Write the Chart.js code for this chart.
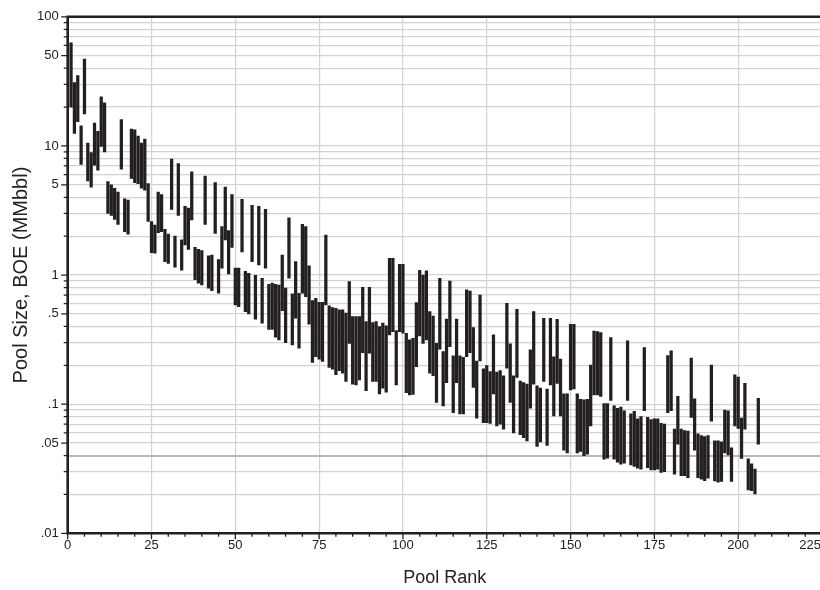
<!DOCTYPE html>
<html>
<head>
<meta charset="utf-8">
<title>Pool Size by Rank</title>
<script src="https://cdn.jsdelivr.net/npm/chart.js@4/dist/chart.umd.min.js"></script>
<style>
    html, body { margin: 0; padding: 0; background: #fff; overflow: hidden; }
    #wrap { position: relative; width: 840px; height: 590px; }
</style>
</head>
<body>
<div id="wrap"><canvas id="pool-chart"></canvas></div>
<script>
// Pool size range (MMbbl BOE) for each pool, ranked 1..206
const poolHigh = [
    63, 31, 35, 14.3, 47, 10.5, 8.9, 15, 13, 24,
    21.6, 5.3, 5.0, 4.7, 4.4, 16, 3.9, 3.8, 13.5, 13.3,
    11.9, 10.5, 11.3, 5.1, 2.6, 2.44, 4.4, 4.2, 2.26, 2.08,
    7.9, 2.0, 7.3, 1.87, 3.4, 3.3, 6.3, 1.64, 1.58, 1.55,
    5.85, 1.41, 1.43, 5.2, 1.32, 2.37, 4.8, 2.21, 4.2, 1.13,
    1.13, 3.86, 1.07, 1.03, 3.47, 0.996, 3.4, 0.944, 3.23, 0.849,
    0.865, 0.849, 0.838, 1.43, 0.791, 2.78, 0.714, 1.27, 0.723, 2.47,
    2.37, 1.18, 0.634, 0.661, 0.615, 0.615, 2.04, 0.577, 0.56, 0.553,
    0.537, 0.537, 0.508, 0.891, 0.476, 0.476, 0.476, 0.805, 0.436, 0.805,
    0.428, 0.436, 0.399, 0.424, 0.404, 1.35, 1.35, 0.371, 1.21, 1.21,
    0.354, 0.315, 0.324, 0.611, 1.09, 1.0, 1.08, 0.521, 0.482, 0.296,
    0.944, 0.255, 0.457, 0.9, 0.237, 0.457, 0.237, 0.231, 0.767, 0.753,
    0.392, 0.216, 0.701, 0.188, 0.199, 0.179, 0.344, 0.177, 0.182, 0.166,
    0.604, 0.293, 0.166, 0.543, 0.151, 0.147, 0.143, 0.263, 0.521, 0.139,
    0.133, 0.463, 0.131, 0.463, 0.233, 0.455, 0.223, 0.12, 0.12, 0.416,
    0.416, 0.12, 0.109, 0.108, 0.109, 0.201, 0.369, 0.365, 0.358, 0.101,
    0.101, 0.328, 0.097, 0.093, 0.095, 0.089, 0.309, 0.084, 0.088, 0.077,
    0.08, 0.274, 0.079, 0.076, 0.077, 0.077, 0.071, 0.07, 0.238, 0.259,
    0.064, 0.115, 0.064, 0.0625, 0.062, 0.227, 0.11, 0.059, 0.057, 0.056,
    0.057, 0.201, 0.052, 0.052, 0.051, 0.09, 0.089, 0.046, 0.169, 0.162,
    0.078, 0.145, 0.0378, 0.0345, 0.0314, 0.111
];
const poolLow = [
    20, 12.5, 15.4, 7.2, 17.7, 5.35, 4.8, 7.1, 6.5, 9.9,
    9.0, 3.0, 2.9, 2.7, 2.47, 6.6, 2.17, 2.07, 5.6, 5.2,
    5.1, 4.7, 4.55, 2.6, 1.49, 1.48, 2.13, 2.17, 1.27, 1.23,
    3.23, 1.15, 2.9, 1.09, 1.71, 1.58, 2.67, 0.92, 0.865, 0.84,
    2.47, 0.79, 0.757, 2.1, 0.723, 1.13, 1.87, 1.02, 1.64, 0.588,
    0.569, 1.51, 0.521, 0.5, 1.27, 0.455, 1.2, 0.424, 1.13, 0.38,
    0.38, 0.33, 0.315, 0.53, 0.3, 0.944, 0.288, 0.463, 0.271, 0.723,
    0.681, 0.416, 0.211, 0.233, 0.223, 0.214, 0.588, 0.193, 0.187, 0.169,
    0.182, 0.174, 0.15, 0.296, 0.143, 0.141, 0.154, 0.251, 0.127, 0.248,
    0.15, 0.15, 0.12, 0.133, 0.124, 0.344, 0.365, 0.141, 0.365, 0.354,
    0.123, 0.118, 0.119, 0.195, 0.338, 0.296, 0.315, 0.174, 0.166, 0.103,
    0.267, 0.097, 0.147, 0.279, 0.086, 0.147, 0.084, 0.084, 0.233, 0.251,
    0.135, 0.078, 0.216, 0.072, 0.072, 0.071, 0.12, 0.068, 0.07, 0.064,
    0.19, 0.103, 0.06, 0.161, 0.058, 0.055, 0.052, 0.093, 0.143, 0.047,
    0.051, 0.15, 0.048, 0.141, 0.081, 0.145, 0.081, 0.044, 0.042, 0.129,
    0.131, 0.042, 0.043, 0.04, 0.041, 0.068, 0.118, 0.118, 0.115, 0.0375,
    0.0382, 0.107, 0.0375, 0.0356, 0.0343, 0.0349, 0.107, 0.0339, 0.0329, 0.032,
    0.0314, 0.089, 0.0323, 0.031, 0.031, 0.0314, 0.0296, 0.03, 0.086, 0.089,
    0.0287, 0.049, 0.028, 0.028, 0.027, 0.079, 0.044, 0.027, 0.0263, 0.0256,
    0.0267, 0.074, 0.0255, 0.0249, 0.0252, 0.042, 0.0405, 0.0252, 0.068, 0.065,
    0.038, 0.064, 0.0217, 0.0214, 0.0202, 0.049
];

const xTickValues = [0, 25, 50, 75, 100, 125, 150, 175, 200, 225];
const yMajorValues = [0.01, 0.05, 0.1, 0.5, 1, 5, 10, 50, 100];
const yMajorLabels = ['.01', '.05', '.1', '.5', '1', '5', '10', '50', '100'];

const INK = '#231f20';
const GRID = '#d2d2d2';
const FONT = 'Liberation Sans, Arial, sans-serif';

// every 1..9 multiple between .01 and 100 gets a grid line
function logTickValues() {
    const vals = [];
    for (let e = -2; e <= 1; e++) {
        for (let m = 1; m <= 9; m++) {
            vals.push(Number((m * Math.pow(10, e)).toPrecision(3)));
        }
    }
    vals.push(100);
    return vals;
}

function isNear(a, b) {
    return Math.abs(a - b) / b < 1e-6;
}

function majorLabel(v) {
    const i = yMajorValues.findIndex(m => isNear(v, m));
    return i >= 0 ? yMajorLabels[i] : '';
}

// axis frame plus the short outward tick marks
const frameTicks = {
    id: 'frameTicks',
    afterDatasetsDraw(chart) {
        const {ctx, chartArea: a, scales: {x, y}} = chart;
        ctx.save();
        ctx.strokeStyle = INK;

        ctx.lineWidth = 1.3;
        ctx.beginPath();
        for (let v = 0; v <= 225; v += 5) {
            const px = x.getPixelForValue(v);
            const len = v % 25 === 0 ? 6 : 3.5;
            ctx.moveTo(px, a.bottom);
            ctx.lineTo(px, a.bottom + len);
        }
        logTickValues().forEach(v => {
            const py = y.getPixelForValue(v);
            const len = majorLabel(v) ? 6.5 : 4;
            ctx.moveTo(a.left, py);
            ctx.lineTo(a.left - len, py);
        });
        ctx.stroke();

        ctx.lineWidth = 2.6;
        ctx.beginPath();
        ctx.moveTo(a.left, a.top);
        ctx.lineTo(a.right, a.top);
        ctx.lineTo(a.right, a.bottom);
        ctx.lineTo(a.left, a.bottom);
        ctx.closePath();
        ctx.stroke();

        // last rank label is pulled in so it stays inside the page edge
        const last = xTickValues[xTickValues.length - 1];
        ctx.fillStyle = '#222';
        ctx.font = '13px ' + FONT;
        ctx.textAlign = 'right';
        ctx.textBaseline = 'middle';
        ctx.fillText(String(last), 821, a.bottom + 12);
        ctx.restore();
    }
};

function initializePoolChart() {
    const ctx = document.getElementById('pool-chart').getContext('2d');

    window.poolChart = new Chart(ctx, {
        type: 'bar',
        data: {
            datasets: [{
                label: 'Pool size range',
                data: poolHigh.map((hi, i) => ({ x: i + 1, y: [poolLow[i], hi] })),
                backgroundColor: INK,
                borderWidth: 0,
                barThickness: 2.6,
                grouped: false
            }]
        },
        options: {
            responsive: true,
            maintainAspectRatio: false,
            animation: false,
            layout: { padding: { left: 0, top: 16.7, right: 18, bottom: 0 } },
            plugins: {
                legend: { display: false },
                tooltip: { enabled: false }
            },
            scales: {
                x: {
                    type: 'linear',
                    min: 0,
                    max: 225,
                    offset: false,
                    afterBuildTicks: s => { s.ticks = xTickValues.map(v => ({ value: v })); },
                    afterFit: s => { s.height = 56.7; },
                    border: { display: false },
                    grid: {
                        offset: false,
                        drawTicks: false,
                        color: c => (c.tick && (c.tick.value === 0 || c.tick.value === 225)) ? 'rgba(0,0,0,0)' : GRID,
                        lineWidth: 1.2
                    },
                    ticks: {
                        autoSkip: false,
                        maxRotation: 0,
                        padding: 4,
                        color: '#222',
                        font: { family: FONT, size: 13 },
                        callback: v => (v === 225 ? '' : String(v))
                    },
                    title: {
                        display: true,
                        text: 'Pool Rank',
                        color: '#222',
                        font: { family: FONT, size: 18 },
                        padding: { top: 0, bottom: 1 }
                    }
                },
                y: {
                    type: 'logarithmic',
                    min: 0.01,
                    max: 100,
                    afterBuildTicks: s => { s.ticks = logTickValues().map(v => ({ value: v })); },
                    afterFit: s => { s.width = 67.7; },
                    border: { display: false },
                    grid: {
                        drawTicks: false,
                        color: c => {
                            if (!c.tick) return GRID;
                            const v = c.tick.value;
                            if (isNear(v, 100) || isNear(v, 0.01)) return 'rgba(0,0,0,0)';
                            return isNear(v, 0.04) ? '#b8b8b8' : GRID;
                        },
                        lineWidth: c => (c.tick && isNear(c.tick.value, 0.04)) ? 2 : 1.2
                    },
                    ticks: {
                        autoSkip: false,
                        padding: 9,
                        color: '#222',
                        font: { family: FONT, size: 13 },
                        callback: v => majorLabel(v)
                    },
                    title: {
                        display: true,
                        text: 'Pool Size, BOE (MMbbl)',
                        color: '#222',
                        font: { family: FONT, size: 20 },
                        padding: { top: 9, bottom: 0 }
                    }
                }
            }
        },
        plugins: [frameTicks]
    });
}

document.addEventListener('DOMContentLoaded', initializePoolChart);
</script>
</body>
</html>
